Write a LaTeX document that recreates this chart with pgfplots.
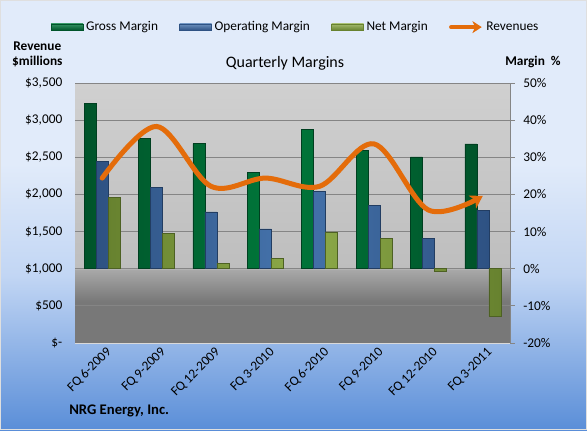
\documentclass[border=0pt]{standalone}
\usepackage{fontspec}
\setmainfont{Carlito}
\usepackage{pgfplots}
\pgfplotsset{compat=1.18}
\usetikzlibrary{arrows.meta}

\definecolor{grossM}{HTML}{00773A}
\definecolor{grossD}{HTML}{00542A}
\definecolor{opM}{HTML}{4573AC}
\definecolor{opD}{HTML}{2E5283}
\definecolor{netM}{HTML}{8DAA49}
\definecolor{netD}{HTML}{67822F}
\definecolor{orng}{HTML}{E46C0A}
\definecolor{bgTop}{HTML}{E1EBFA}
\definecolor{bgMid}{HTML}{C2D6F4}
\definecolor{bgBot}{HTML}{5A8ED8}
\definecolor{pb1}{HTML}{787878}
\definecolor{pb2}{HTML}{A9A9A9}
\definecolor{pb3}{HTML}{BEBEBE}
\definecolor{pb4}{HTML}{D0D0D0}
\definecolor{gridc}{HTML}{858585}

\pgfdeclareverticalshading{figbg}{100bp}{color(0bp)=(bgBot); color(25bp)=(bgBot); color(43bp)=(bgMid); color(56bp)=(bgTop); color(75bp)=(bgTop); color(100bp)=(bgTop)}
\pgfdeclareverticalshading{plotbg}{100bp}{color(0bp)=(pb1); color(25bp)=(pb1); color(33bp)=(pb1); color(39.2bp)=(pb2); color(39.3bp)=(pb3); color(75bp)=(pb4); color(100bp)=(pb4)}

\pgfplotstableread{
x gross op net
0 44.5 29.0 19.3
1 35.1 21.8 9.6
2 33.7 15.3 1.5
3 26.0 10.7 2.7
4 37.6 20.9 9.9
5 31.8 17.0 8.2
6 30.1 8.2 -0.6
7 33.6 15.8 -12.8
}\margins

\pgfplotstableread{
x rev
0 2220
1 2915
2 2110
3 2220
4 2110
5 2680
6 1790
7 1980
}\revenue

\begin{document}
\begin{tikzpicture}
\shade[shading=figbg] (0pt,0pt) rectangle (440.25pt,322.5pt);
\draw[white!75!gray, line width=0.6pt] (0.3pt,0.3pt) rectangle (439.95pt,322.2pt);
\useasboundingbox (0pt,0pt) rectangle (440.25pt,322.5pt);

% bars on the right (margin) axis
\begin{axis}[
  at={(56.25pt,65.25pt)}, anchor=south west,
  scale only axis, width=326.25pt, height=195pt,
  xmin=-0.5, xmax=7.5, ymin=-20, ymax=50,
  axis x line*=bottom, axis y line*=right,
  axis line style={gridc, line width=0.6pt},
  x axis line style={white!70!gray},
  ytick={-20,-10,...,50},
  yticklabels={-20\%,-10\%,0\%,10\%,20\%,30\%,40\%,50\%},
  ymajorgrids, grid style={gridc, line width=0.6pt},
  tick align=outside, major tick length=3.5pt,
  y tick style={gridc, line width=0.6pt},
  xtick={0,...,7}, xtick style={draw=none},
  xticklabels={FQ 6-2009,FQ 9-2009,FQ 12-2009,FQ 3-2010,FQ 6-2010,FQ 9-2010,FQ 12-2010,FQ 3-2011},
  x tick label style={rotate=45, anchor=east, font=\fontsize{10}{12}\selectfont, xshift=6pt, yshift=-5pt},
  y tick label style={font=\fontsize{10}{12}\selectfont, xshift=3pt},
  /pgf/number format/assume math mode=true,
  axis background/.style={shading=plotbg},
  ybar=0pt, bar width=9pt,
  clip=false,
]
\addplot[left color=grossD, right color=grossD, middle color=grossM, draw=grossD!75!black, line width=0.4pt] table[x=x,y=gross]{\margins};
\addplot[left color=opD, right color=opD, middle color=opM, draw=opD!75!black, line width=0.4pt] table[x=x,y=op]{\margins};
\addplot[left color=netD, right color=netD, middle color=netM, draw=netD!75!black, line width=0.4pt] table[x=x,y=net]{\margins};
\end{axis}

% revenue line on the left axis
\begin{axis}[
  at={(56.25pt,65.25pt)}, anchor=south west,
  scale only axis, width=326.25pt, height=195pt,
  xmin=-0.5, xmax=7.5, ymin=0, ymax=3500,
  axis x line=none, axis y line*=left,
  y axis line style={draw=none},
  ytick={0,500,...,3500},
  yticklabels={\$-,\$500,{\$1,000},{\$1,500},{\$2,000},{\$2,500},{\$3,000},{\$3,500}},
  major tick length=0pt,
  y tick label style={font=\fontsize{10}{12}\selectfont, xshift=-6pt},
  /pgf/number format/assume math mode=true,
  legend style={at={(0.508,1.215)}, anchor=center, draw=none, fill=none,
    legend columns=4, font=\fontsize{10}{12}\selectfont,
    /tikz/every even column/.append style={column sep=14pt},
    inner sep=0pt},
  legend cell align=left,
  clip=false,
]
\addlegendimage{legend image code/.code={\draw[top color=grossM!80!white, bottom color=grossD, draw=grossD] (0pt,-2.4pt) rectangle (24pt,2.4pt);}}
\addlegendentry{Gross Margin}
\addlegendimage{legend image code/.code={\draw[top color=opM!80!white, bottom color=opD, draw=opD] (0pt,-2.4pt) rectangle (24pt,2.4pt);}}
\addlegendentry{Operating Margin}
\addlegendimage{legend image code/.code={\draw[top color=netM!80!white, bottom color=netD, draw=netD] (0pt,-2.4pt) rectangle (24pt,2.4pt);}}
\addlegendentry{Net Margin}
\addplot[orng, line width=3.75pt, line cap=round, smooth, tension=0.55, -{Stealth[length=9pt,width=11pt,inset=2.5pt]},
  legend image code/.code={\draw[orng, line width=3pt, -{Stealth[length=7pt,width=9pt,inset=2pt]}] (0pt,0pt) -- (23pt,0pt);}]
  table[x=x,y=rev]{\revenue};
\addlegendentry{Revenues}
\end{axis}

\node[font=\fontsize{12}{14}\selectfont] at (213.75pt,275.25pt) {Quarterly Margins};
\node[font=\fontsize{10}{12}\selectfont\bfseries, align=center, text height=8pt] at (28pt,277pt) {Revenue\\[-1pt]\$millions};
\node[font=\fontsize{10}{12}\selectfont\bfseries] at (399.75pt,276pt) {Margin~~\%};
\node[font=\fontsize{11}{13}\selectfont\bfseries, anchor=west, inner sep=0pt] at (51.75pt,14.25pt) {NRG Energy, Inc.};
\end{tikzpicture}
\end{document}
